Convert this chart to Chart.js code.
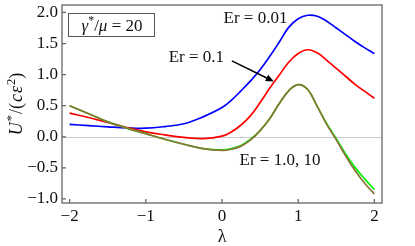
<!DOCTYPE html>
<html>
<head>
<meta charset="utf-8">
<script src="https://cdn.jsdelivr.net/npm/chart.js@4.4.1/dist/chart.umd.min.js"></script>
<style>
  html, body { margin: 0; padding: 0; background: #fff; }
  canvas { display: block; }
</style>
</head>
<body>
<canvas id="myChart" width="415" height="246"></canvas>
<script>
// Datos: U*/(c eps^2) en función de lambda
const lambdaVals = [-2, -1.75, -1.5, -1.25, -1, -0.75, -0.5, -0.25, 0, 0.125, 0.25, 0.375, 0.5, 0.625, 0.75, 0.875, 1, 1.125, 1.25, 1.375, 1.5, 1.625, 1.75, 1.875, 2];
const er001 = [0.20, 0.18, 0.16, 0.143, 0.138, 0.165, 0.21, 0.32, 0.47, 0.59, 0.74, 0.90, 1.08, 1.29, 1.52, 1.76, 1.90, 1.955, 1.94, 1.86, 1.75, 1.64, 1.53, 1.43, 1.34];
const er01  = [0.38, 0.31, 0.23, 0.15, 0.08, 0.03, -0.01, -0.03, 0.01, 0.08, 0.19, 0.34, 0.55, 0.78, 0.99, 1.20, 1.34, 1.40, 1.35, 1.23, 1.10, 0.97, 0.84, 0.73, 0.62];
const er1   = [0.50, 0.37, 0.24, 0.14, 0.05, -0.04, -0.12, -0.19, -0.21, -0.19, -0.14, -0.04, 0.10, 0.29, 0.53, 0.74, 0.84, 0.76, 0.49, 0.21, -0.03, -0.28, -0.50, -0.68, -0.85];
const er10  = [0.50, 0.37, 0.24, 0.14, 0.05, -0.04, -0.12, -0.19, -0.22, -0.20, -0.15, -0.05, 0.10, 0.29, 0.53, 0.74, 0.84, 0.76, 0.49, 0.20, -0.05, -0.31, -0.55, -0.75, -0.92];

const xTicks = [-2, -1, 0, 1, 2];
const yTicks = [-1, -0.5, 0, 0.5, 1, 1.5, 2];

const serif = '"Liberation Serif", serif';
const tickFont = { family: serif, size: 17, lineHeight: 1.1 };

function pts(ys) {
    return lambdaVals.map((x, i) => ({ x: x, y: ys[i] }));
}

function fmt(v, d) {
    return (v < 0 ? '\u2212' : '') + Math.abs(v).toFixed(d);
}

// Texto con partes en cursiva y superíndices
function drawRich(ctx, parts, x, y, align, size) {
    let total = 0;
    parts.forEach(p => {
        ctx.font = (p.it ? 'italic ' : '') + (p.sup ? size * 0.7 : size) + 'px ' + serif;
        p.w = ctx.measureText(p.t).width + (p.gap || 0);
        total += p.w;
    });
    let cx = align === 'center' ? x - total / 2 : x;
    ctx.textBaseline = 'alphabetic';
    ctx.textAlign = 'left';
    parts.forEach(p => {
        ctx.font = (p.it ? 'italic ' : '') + (p.sup ? size * 0.7 : size) + 'px ' + serif;
        ctx.fillText(p.t, cx, p.sup ? y - size * 0.4 : y);
        cx += p.w;
    });
}

const decorPlugin = {
    id: 'decor',
    beforeDatasetsDraw(chart) {
        const { ctx, chartArea: a, scales: { y } } = chart;
        ctx.save();
        ctx.strokeStyle = '#c8c8c8';
        ctx.lineWidth = 1;
        const y0 = Math.round(y.getPixelForValue(0)) + 0.5;
        ctx.beginPath();
        ctx.moveTo(a.left, y0);
        ctx.lineTo(a.right, y0);
        ctx.stroke();
        ctx.restore();
    },
    afterDatasetsDraw(chart) {
        const { ctx, chartArea: a, scales: { x, y } } = chart;
        ctx.save();
        // marco y marcas de escala hacia dentro
        ctx.strokeStyle = '#666';
        ctx.lineWidth = 1.3;
        ctx.strokeRect(a.left, a.top, a.right - a.left, a.bottom - a.top);
        ctx.beginPath();
        xTicks.forEach(v => {
            const px = x.getPixelForValue(v);
            ctx.moveTo(px, a.bottom);
            ctx.lineTo(px, a.bottom - 4);
        });
        yTicks.forEach(v => {
            const py = y.getPixelForValue(v);
            ctx.moveTo(a.left, py);
            ctx.lineTo(a.left + 4, py);
        });
        ctx.stroke();

        ctx.fillStyle = '#111';
        // recuadro gamma*/mu = 20
        ctx.strokeStyle = '#555';
        ctx.lineWidth = 1;
        ctx.strokeRect(68.5, 13.5, 86, 23);
        drawRich(ctx, [
            { t: '\u03B3', it: true }, { t: '*', sup: true }, { t: '/' },
            { t: '\u03BC', it: true }, { t: ' = 20' }
        ], 112, 30.5, 'center', 17);

        // etiquetas de las curvas
        drawRich(ctx, [{ t: 'Er = 0.01' }], x.getPixelForValue(0.02), y.getPixelForValue(1.83), 'left', 17);
        drawRich(ctx, [{ t: 'Er = 0.1' }], x.getPixelForValue(-0.70), y.getPixelForValue(1.21), 'left', 17);
        drawRich(ctx, [{ t: 'Er = 1.0, 10' }], x.getPixelForValue(0.23), y.getPixelForValue(-0.45), 'left', 17);

        // flecha
        const x1 = x.getPixelForValue(0.13), y1 = y.getPixelForValue(1.22);
        const x2 = x.getPixelForValue(0.68), y2 = y.getPixelForValue(0.89);
        const ang = Math.atan2(y2 - y1, x2 - x1);
        ctx.strokeStyle = '#000';
        ctx.lineWidth = 1.5;
        ctx.beginPath();
        ctx.moveTo(x1, y1);
        ctx.lineTo(x2 - 5 * Math.cos(ang), y2 - 5 * Math.sin(ang));
        ctx.stroke();
        ctx.fillStyle = '#000';
        ctx.beginPath();
        ctx.moveTo(x2, y2);
        ctx.lineTo(x2 - 8 * Math.cos(ang) + 3.5 * Math.sin(ang), y2 - 8 * Math.sin(ang) - 3.5 * Math.cos(ang));
        ctx.lineTo(x2 - 8 * Math.cos(ang) - 3.5 * Math.sin(ang), y2 - 8 * Math.sin(ang) + 3.5 * Math.cos(ang));
        ctx.closePath();
        ctx.fill();

        // títulos de los ejes
        ctx.fillStyle = '#111';
        drawRich(ctx, [{ t: '\u03BB' }], x.getPixelForValue(0), 242, 'center', 18);
        ctx.translate(22, (a.top + a.bottom) / 2);
        ctx.rotate(-Math.PI / 2);
        drawRich(ctx, [
            { t: 'U', it: true, gap: 1 }, { t: '*', sup: true, gap: 1 }, { t: '/(', gap: 1 },
            { t: 'c', it: true, gap: 1 }, { t: '\u03B5', it: true, gap: 1 }, { t: '2', sup: true }, { t: ')' }
        ], 0, 0, 'center', 18);
        ctx.restore();
    }
};

const ctx = document.getElementById('myChart').getContext('2d');
// Chart.js dibuja el primer dataset encima, por eso van en orden inverso
const myChart = new Chart(ctx, {
    type: 'line',
    data: {
        datasets: [
            { label: 'Er = 10', data: pts(er10), borderColor: 'rgb(140, 115, 55)' },
            { label: 'Er = 1.0', data: pts(er1), borderColor: 'rgb(0, 245, 0)' },
            { label: 'Er = 0.1', data: pts(er01), borderColor: 'rgb(255, 0, 0)' },
            { label: 'Er = 0.01', data: pts(er001), borderColor: 'rgb(0, 0, 255)' }
        ]
    },
    options: {
        responsive: false,
        animation: false,
        layout: { padding: { top: 5, right: 33, left: 0, bottom: 0 } },
        elements: {
            line: { borderWidth: 1.7, tension: 0.4, fill: false },
            point: { radius: 0 }
        },
        plugins: {
            legend: { display: false },
            tooltip: { enabled: false }
        },
        scales: {
            x: {
                type: 'linear',
                min: -2.1,
                max: 2.1,
                afterBuildTicks: s => { s.ticks = xTicks.map(v => ({ value: v })); },
                afterFit: s => { s.height = 43; s.paddingLeft = 0; s.paddingRight = 0; },
                ticks: { font: tickFont, color: '#111', padding: 4, maxRotation: 0, autoSkip: false, callback: v => fmt(v, 0) },
                grid: { display: false, drawTicks: false },
                border: { display: false }
            },
            y: {
                min: -1.065,
                max: 2.12,
                afterBuildTicks: s => { s.ticks = yTicks.map(v => ({ value: v })); },
                afterFit: s => { s.width = 62; s.paddingTop = 0; s.paddingBottom = 0; },
                ticks: { font: tickFont, color: '#111', padding: 4, autoSkip: false, callback: v => fmt(v, 1) },
                grid: { display: false, drawTicks: false },
                border: { display: false }
            }
        }
    },
    plugins: [decorPlugin]
});
</script>
</body>
</html>
